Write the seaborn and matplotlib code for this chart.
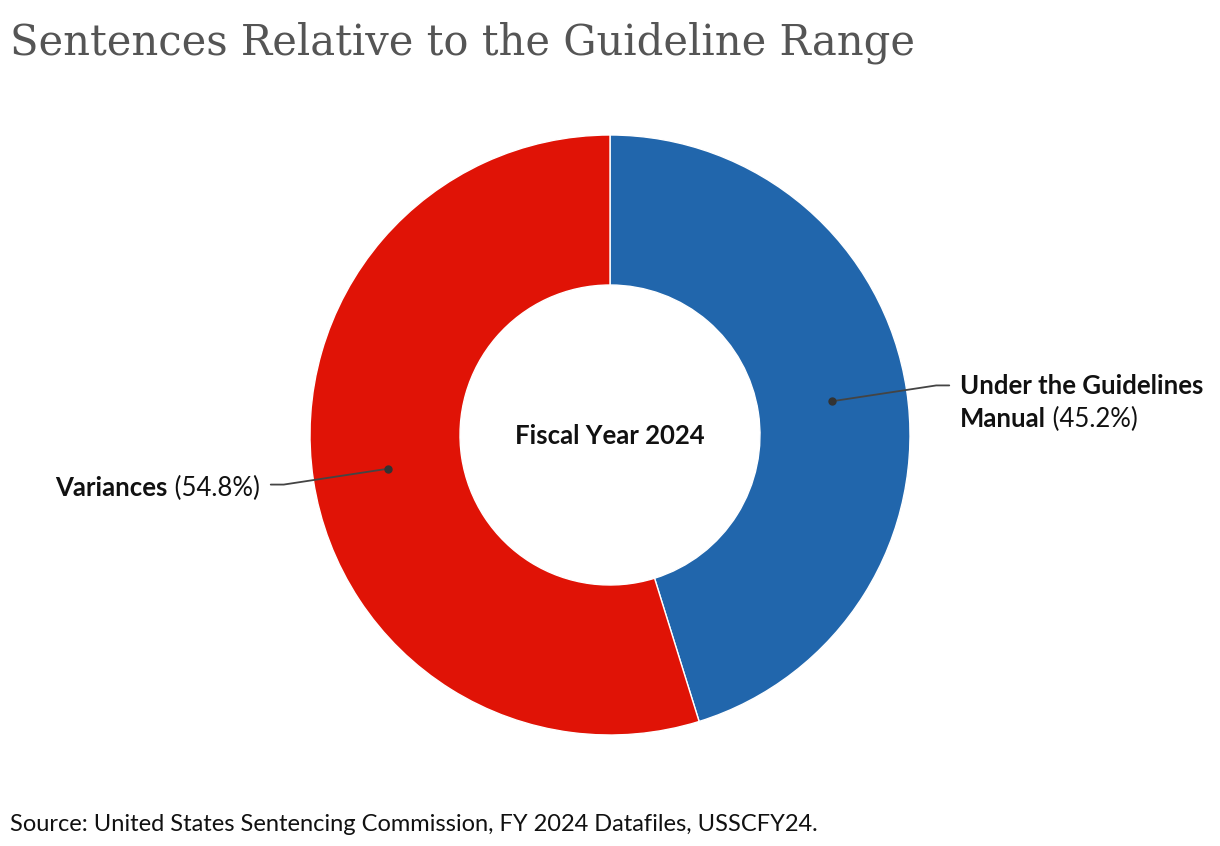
import numpy as np
import matplotlib.pyplot as plt
import seaborn as sns

labels = ["Under the Guidelines\nManual", "Variances"]
values = [45.2, 54.8]
colors = ["#2166ac", "#e01306"]
center_label = "Fiscal Year 2024"
title = "Sentences Relative to the Guideline Range"
source = "Source: United States Sentencing Commission, FY 2024 Datafiles, USSCFY24."

sns.set_theme(style="white")
plt.rcParams["font.family"] = ["Lato", "DejaVu Sans"]

W, H = 1220, 846
fig = plt.figure(figsize=(W / 100, H / 100), dpi=100)
ax = fig.add_axes([0, 0, 1, 1])
ax.set_xlim(0, W)
ax.set_ylim(0, H)
ax.set_aspect("equal")
ax.axis("off")

cx, cy = 610, H - 435
R, ring = 300, 150
fs = 18.5

wedges, _ = ax.pie(values, colors=colors, startangle=90, counterclock=False,
                   radius=R, center=(cx, cy),
                   wedgeprops=dict(width=ring, edgecolor="white", linewidth=1))
ax.set_xlim(0, W)
ax.set_ylim(0, H)

ax.text(cx, cy - 9, center_label, ha="center", va="baseline",
        fontsize=fs, fontweight="bold", color="#111111")

# leader lines
for w, lab, v in zip(wedges, labels, values):
    mid = np.deg2rad((w.theta1 + w.theta2) / 2)
    r_mid = R - ring / 2
    px, py = cx + r_mid * np.cos(mid), cy + r_mid * np.sin(mid)
    ex, ey = cx + 330 * np.cos(mid), cy + 330 * np.sin(mid)
    side = 1 if np.cos(mid) > 0 else -1
    hx = ex + side * 13
    ax.plot([px, ex, hx], [py, ey, ey], color="#444444", lw=1.3)
    ax.plot(px, py, "o", color="#333333", ms=5)
    lines = lab.split("\n")
    tx = hx + side * 11
    if side > 0:
        base = ey - 9
        for i, ln in enumerate(lines):
            t = ax.text(tx, base - i * 33, ln, ha="left", va="baseline",
                        fontsize=fs, fontweight="bold", color="#111111")
        ax.annotate(f" ({v}%)", xy=(1, base - (len(lines) - 1) * 33),
                    xycoords=(t, "data"), ha="left", va="baseline",
                    fontsize=fs, color="#111111")
    else:
        base = ey - 11
        t = ax.text(tx, base, f" ({v}%)", ha="right", va="baseline",
                    fontsize=fs, color="#111111")
        ax.annotate(lines[0], xy=(0, base), xycoords=(t, "data"),
                    ha="right", va="baseline", fontsize=fs,
                    fontweight="bold", color="#111111")

fig.text(10 / W, 1 - 55 / H, title, ha="left", va="baseline",
         fontsize=30, color="#555555", family="DejaVu Serif")
fig.text(10 / W, 1 - 831 / H, source, ha="left", va="baseline",
         fontsize=17, color="#111111")

fig.savefig("out.png", dpi=100)
